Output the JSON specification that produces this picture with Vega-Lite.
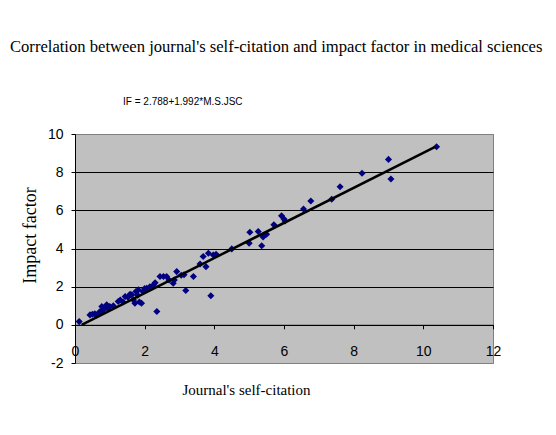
{
  "$schema": "https://vega.github.io/schema/vega-lite/v6.json",
  "autosize": {"type": "none"},
  "padding": {"left": 75, "top": 134, "right": 63, "bottom": 72},
  "width": 418,
  "height": 229,
  "background": "white",
  "title": {
    "text": "Correlation between journal's self-citation and impact factor in medical sciences",
    "anchor": "start",
    "frame": "group",
    "dx": -65,
    "offset": 41,
    "font": "Liberation Serif",
    "fontSize": 16.6,
    "fontWeight": "normal",
    "color": "black"
  },
  "datasets": {
    "points": [
      {"sc": 0.12, "impact": 0.17}, {"sc": 0.43, "impact": 0.52}, {"sc": 0.5, "impact": 0.55}, {"sc": 0.57, "impact": 0.58},
      {"sc": 0.62, "impact": 0.5}, {"sc": 0.68, "impact": 0.62}, {"sc": 0.72, "impact": 0.7}, {"sc": 0.77, "impact": 0.96},
      {"sc": 0.8, "impact": 0.75}, {"sc": 0.86, "impact": 0.87}, {"sc": 0.91, "impact": 1.05}, {"sc": 0.95, "impact": 0.85},
      {"sc": 1.0, "impact": 0.96}, {"sc": 1.1, "impact": 1.0}, {"sc": 1.24, "impact": 1.22}, {"sc": 1.3, "impact": 1.3},
      {"sc": 1.38, "impact": 1.2}, {"sc": 1.44, "impact": 1.48}, {"sc": 1.52, "impact": 1.45}, {"sc": 1.58, "impact": 1.6},
      {"sc": 1.63, "impact": 1.57}, {"sc": 1.68, "impact": 1.3}, {"sc": 1.72, "impact": 1.13}, {"sc": 1.75, "impact": 1.75},
      {"sc": 1.8, "impact": 1.55}, {"sc": 1.82, "impact": 1.83}, {"sc": 1.85, "impact": 1.2}, {"sc": 1.91, "impact": 1.13},
      {"sc": 1.95, "impact": 1.75}, {"sc": 2.0, "impact": 1.9}, {"sc": 2.06, "impact": 1.92}, {"sc": 2.15, "impact": 2.0},
      {"sc": 2.25, "impact": 2.09}, {"sc": 2.3, "impact": 2.2}, {"sc": 2.35, "impact": 0.7}, {"sc": 2.44, "impact": 2.53},
      {"sc": 2.54, "impact": 2.53}, {"sc": 2.63, "impact": 2.53}, {"sc": 2.7, "impact": 2.35}, {"sc": 2.82, "impact": 2.18},
      {"sc": 2.85, "impact": 2.35}, {"sc": 2.92, "impact": 2.79}, {"sc": 3.05, "impact": 2.6}, {"sc": 3.13, "impact": 2.62},
      {"sc": 3.18, "impact": 1.8}, {"sc": 3.4, "impact": 2.53}, {"sc": 3.59, "impact": 3.19}, {"sc": 3.68, "impact": 3.58},
      {"sc": 3.76, "impact": 3.05}, {"sc": 3.83, "impact": 3.75}, {"sc": 3.9, "impact": 1.52}, {"sc": 3.97, "impact": 3.66},
      {"sc": 4.05, "impact": 3.7}, {"sc": 4.5, "impact": 3.98}, {"sc": 5.0, "impact": 4.28}, {"sc": 5.02, "impact": 4.85},
      {"sc": 5.26, "impact": 4.89}, {"sc": 5.36, "impact": 4.14}, {"sc": 5.4, "impact": 4.6}, {"sc": 5.5, "impact": 4.75},
      {"sc": 5.71, "impact": 5.24}, {"sc": 5.93, "impact": 5.71}, {"sc": 6.0, "impact": 5.55}, {"sc": 6.03, "impact": 5.44},
      {"sc": 6.56, "impact": 6.07}, {"sc": 6.77, "impact": 6.49}, {"sc": 7.37, "impact": 6.58}, {"sc": 7.61, "impact": 7.24},
      {"sc": 8.24, "impact": 7.94}, {"sc": 9.0, "impact": 8.67}, {"sc": 9.07, "impact": 7.64}, {"sc": 10.38, "impact": 9.33}
    ],
    "trend": [
      {"sc": 0.19, "impact": 0.0},
      {"sc": 10.34, "impact": 9.33}
    ],
    "eq": [
      {"sc": 1.38, "impact": 11.68, "label": "IF = 2.788+1.992*M.S.JSC"}
    ]
  },
  "encoding": {
    "x": {
      "field": "sc", "type": "quantitative",
      "scale": {"domain": [0, 12], "nice": false, "zero": false},
      "axis": {
        "title": "Journal's self-citation",
        "values": [0, 2, 4, 6, 8, 10, 12],
        "offset": -38.2,
        "grid": false,
        "domainColor": "black",
        "tickColor": "black",
        "tickSize": 4,
        "labelPadding": 16,
        "labelFont": "Liberation Sans",
        "labelFontSize": 14,
        "labelColor": "black",
        "labelFlush": false,
        "titleFont": "Liberation Serif",
        "titleFontSize": 15,
        "titleFontWeight": "normal",
        "titleColor": "black",
        "titleX": 171,
        "titlePadding": 24
      }
    },
    "y": {
      "field": "impact", "type": "quantitative",
      "scale": {"domain": [-2, 10], "nice": false, "zero": false},
      "axis": {
        "title": "Impact factor",
        "values": [-2, 0, 2, 4, 6, 8, 10],
        "labelExpr": "replace(datum.label, '\u2212', '-')",
        "grid": true,
        "gridColor": {"condition": {"test": "datum.value == 10 || datum.value == -2", "value": "#808080"}, "value": "black"},
        "gridWidth": 1,
        "domainColor": "black",
        "tickColor": "black",
        "tickSize": 4,
        "labelPadding": 8,
        "labelFont": "Liberation Sans",
        "labelFontSize": 14,
        "labelColor": "black",
        "labelFlush": false,
        "titleFont": "Liberation Serif",
        "titleFontSize": 18,
        "titleFontWeight": "normal",
        "titleColor": "black",
        "titleY": 101,
        "titlePadding": 8
      }
    }
  },
  "layer": [
    {
      "data": {"name": "points"},
      "mark": {"type": "point", "shape": "diamond", "filled": true, "color": "#000080", "size": 50, "opacity": 1}
    },
    {
      "data": {"name": "trend"},
      "mark": {"type": "line", "color": "black", "strokeWidth": 2.5}
    },
    {
      "data": {"name": "eq"},
      "mark": {"type": "text", "align": "left", "baseline": "middle", "font": "Liberation Sans", "fontSize": 10, "color": "black", "clip": false},
      "encoding": {"text": {"field": "label"}}
    }
  ],
  "config": {
    "view": {"fill": "#C0C0C0", "stroke": "#808080", "strokeWidth": 1}
  }
}
